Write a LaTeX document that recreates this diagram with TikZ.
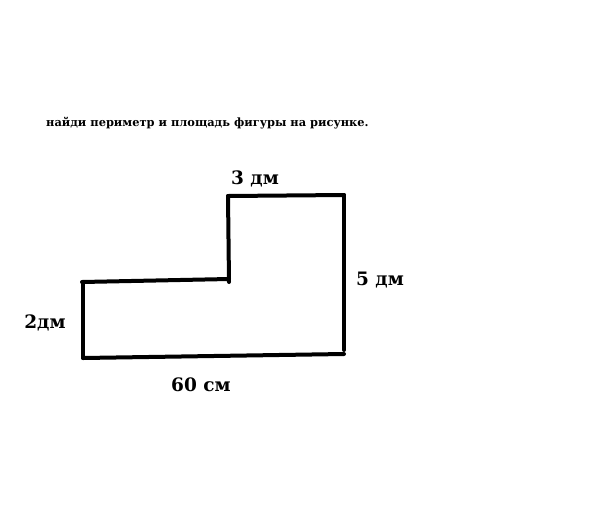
\documentclass[tikz,border=0pt]{standalone}
\usepackage{fontspec}
\setmainfont{DejaVu Serif}
\begin{document}
\begin{tikzpicture}[x=1pt,y=-1pt,
  edge/.style={line width=4pt,line cap=round},
  lbl/.style={font=\bfseries\fontsize{18.5}{22}\selectfont,inner sep=0pt},
  title/.style={font=\bfseries\fontsize{11.4}{13}\selectfont,inner sep=0pt,anchor=west}]
\useasboundingbox[fill=white] (0,0) rectangle (600,515);
% corners
\coordinate (tl) at (228,196);
\coordinate (tr) at (344,195);
\coordinate (br) at (344,350);
\coordinate (bbr) at (344,354);
\coordinate (bl) at (83,358);
\coordinate (ml) at (83,284);
\coordinate (mll) at (82,282);
\coordinate (mr) at (229,279);
\coordinate (ib) at (229,282);
% edges
\draw[edge] (tl) -- (tr);
\draw[edge] (tr) -- (br);
\draw[edge] (bl) -- (bbr);
\draw[edge] (bl) -- (ml);
\draw[edge] (mll) -- (mr);
\draw[edge] (tl) -- (ib);
% texts
\node[title] (t) at (46,123) {найди периметр и площадь фигуры на рисунке.};
\node[lbl] (a) at (255,179) {3 дм};
\node[lbl] (b) at (380,280) {5 дм};
\node[lbl] (c) at (45,323) {2дм};
\node[lbl] (d) at (201,385) {60 см};
\end{tikzpicture}
\end{document}
